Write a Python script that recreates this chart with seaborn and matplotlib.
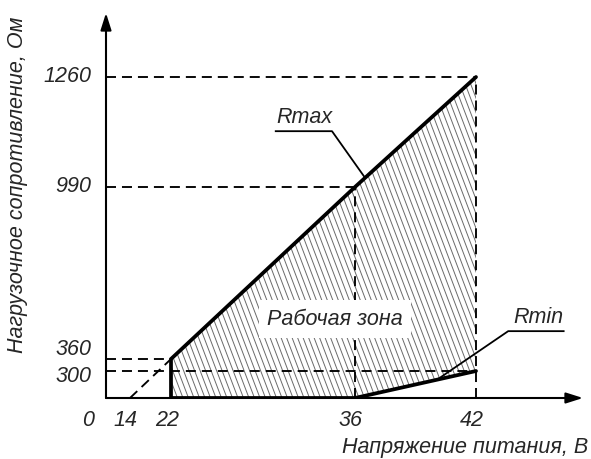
import numpy as np
import matplotlib
matplotlib.use("Agg")
import matplotlib.pyplot as plt
import seaborn as sns
from matplotlib.patches import Polygon
from matplotlib.collections import LineCollection

# Working zone of the supply: load resistance limits vs supply voltage
volts = [22, 36, 42]          # supply voltage, V
r_max = [360, 990, 1260]      # maximum load resistance, Ohm
r_min = [0, 0, 300]           # minimum load resistance, Ohm
v_cutoff = 14                 # voltage where the Rmax line reaches zero load
x_ticks = [14, 22, 36, 42]
y_ticks = [300, 360, 990, 1260]

sns.set_theme(style="white")
plt.rcParams["font.family"] = ["Liberation Sans", "DejaVu Sans"]
plt.rcParams["font.style"] = "italic"
plt.rcParams["lines.scale_dashes"] = False

W, H = 591, 459
fig = plt.figure(figsize=(W / 100, H / 100), dpi=100)
ax = fig.add_axes([106 / W, (H - 398) / H, 477 / W, 385 / H])

# schematic (non-uniform) axes: value knots -> pixel distance from the origin
x_knots, x_pos = [0, 14, 22, 36, 42, 50], [0, 24, 65, 249, 370, 531]
y_knots, y_pos = [0, 300, 360, 990, 1260, 1600], [0, 27, 39, 211, 321, 459.5]
ax.set_xscale("function", functions=(lambda v: np.interp(v, x_knots, x_pos),
                                     lambda p: np.interp(p, x_pos, x_knots)))
ax.set_yscale("function", functions=(lambda v: np.interp(v, y_knots, y_pos),
                                     lambda p: np.interp(p, y_pos, y_knots)))
x_end = float(np.interp(477, x_pos, x_knots))
y_end = float(np.interp(385, y_pos, y_knots))

# hatched working zone
zone_x = volts + volts[::-1]
zone_y = r_max + r_min[::-1]
zone = Polygon(np.column_stack([zone_x, zone_y]), closed=True,
               facecolor="none", edgecolor="none")
ax.add_patch(zone)
aw, ah = 477.0, 385.0
step, lean = 5.5, 0.38
segs = [[((x0) / aw, 1.0), ((x0 + lean * ah) / aw, 0.0)]
        for x0 in np.arange(-lean * ah, aw, step)]
hatch = LineCollection(segs, transform=ax.transAxes, colors="#6a6a6a",
                       linewidths=0.7, zorder=1)
ax.add_collection(hatch)
hatch.set_clip_path(zone)

# dashed guide lines
dash = dict(color="black", lw=1.35, linestyle=(0, (7.2, 4.3)), zorder=2)
for v, r in zip(volts, r_max):
    ax.plot([0, v], [r, r], **dash)
for v, r in zip(volts[1:], r_max[1:]):
    ax.plot([v, v], [0, r], **dash)
ax.plot([0, volts[-1]], [r_min[-1], r_min[-1]], **dash)
ax.plot([v_cutoff, volts[0]], [0, r_max[0]], **dash)

# zone boundary: Rmax, left edge, Rmin
sns.lineplot(x=volts[::-1] + volts, y=r_max[::-1] + r_min, sort=False,
             estimator=None, color="black", lw=2.7, ax=ax, zorder=4)
for ln in ax.lines[-1:]:
    ln.set_solid_joinstyle("miter")

# axes with arrows
arrow = dict(arrowstyle="-|>,head_length=0.85,head_width=0.27", color="black",
             lw=1.5, shrinkA=0, shrinkB=0)
ax.annotate("", xy=(x_end, 0), xytext=(0, 0), arrowprops=arrow,
            annotation_clip=False, zorder=5)
ax.annotate("", xy=(0, y_end), xytext=(0, 0), arrowprops=arrow,
            annotation_clip=False, zorder=5)

ax.set_xlim(0, x_end)
ax.set_ylim(0, y_end)
ax.set_xticks([])
ax.set_yticks([])
for s in ax.spines.values():
    s.set_visible(False)
ax.set_xlabel("")
ax.set_ylabel("")

fs = 15.5
# tick labels
y_shift = {300: -4.3, 360: 6.5}
for r in y_ticks:
    ax.annotate(str(r), xy=(0, r), xytext=(-10.5, y_shift.get(r, 0)),
                textcoords="offset points", ha="right", va="center",
                fontsize=fs, annotation_clip=False)
for v in [0] + x_ticks:
    dx = -13 if v == 0 else -3
    ax.annotate(str(v), xy=(v, 0), xytext=(dx, -16.5),
                textcoords="offset points", ha="center", va="center",
                fontsize=fs, annotation_clip=False)

# curve labels with leaders
lead = dict(color="black", lw=1.3, solid_capstyle="butt", zorder=3)
ax.plot([29.9, 34.25, 36.5], [1127, 1127, float(np.interp(36.5, volts, r_max))], **lead)
ax.text(32.15, 1160, "Rmax", ha="center", va="center", fontsize=fs)
ax.plot([46.4, 43.6, 40.07], [462, 462, float(np.interp(40.07, volts, r_min))], **lead)
ax.text(45.1, 512, "Rmin", ha="center", va="center", fontsize=fs)

ax.text(34.45, 506, "Рабочая зона", ha="center", va="center", fontsize=fs,
        zorder=6, bbox=dict(boxstyle="square,pad=0.38", fc="white", ec="none"))

fig.text(588 / W, 1 - 447 / H, "Напряжение питания, В", ha="right",
         va="center", fontsize=fs)
fig.text(18 / W, 1 - 185 / H, "Нагрузочное сопротивление, Ом", rotation=90,
         ha="center", va="center", fontsize=fs)

fig.savefig("out.png", dpi=100)
